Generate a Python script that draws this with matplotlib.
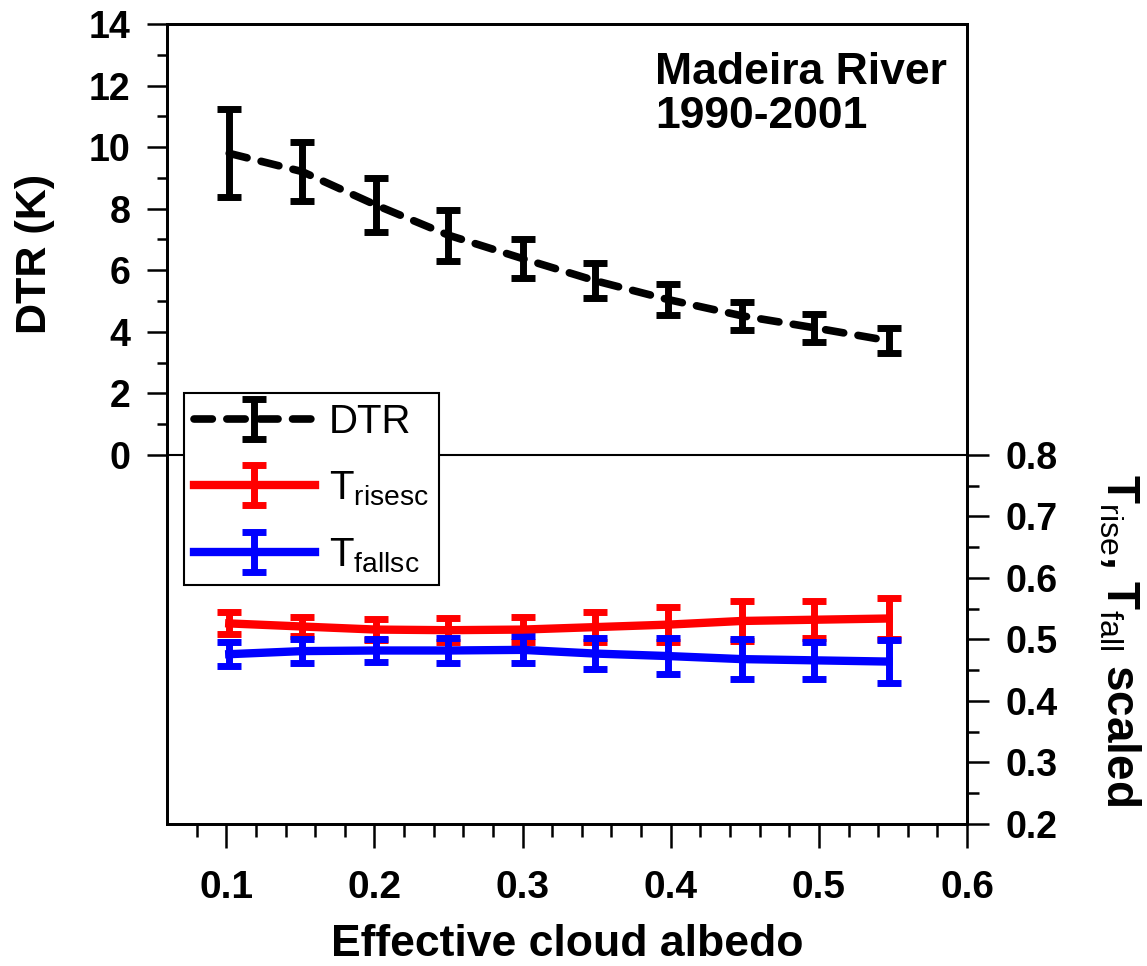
import matplotlib
matplotlib.use("Agg")
import matplotlib.pyplot as plt
from matplotlib.ticker import FixedLocator, FormatStrFormatter

plt.rcParams["font.family"] = ["Liberation Sans", "DejaVu Sans"]
plt.rcParams["mathtext.fontset"] = "custom"
plt.rcParams["mathtext.rm"] = "Liberation Sans"
plt.rcParams["mathtext.bf"] = "Liberation Sans:bold"
plt.rcParams["mathtext.it"] = "Liberation Sans:italic"

# Cloud albedo bins
albedo = [0.102, 0.151, 0.201, 0.250, 0.300, 0.349, 0.398, 0.448, 0.497, 0.547]

# Diurnal temperature range (K) and spread
dtr = [9.80, 9.21, 8.12, 7.14, 6.38, 5.66, 5.05, 4.52, 4.13, 3.71]
dtr_err = [1.43, 0.96, 0.87, 0.83, 0.64, 0.57, 0.50, 0.46, 0.45, 0.41]

# Scaled rise / fall times
t_rise = [0.526, 0.521, 0.516, 0.515, 0.516, 0.520, 0.524, 0.530, 0.532, 0.534]
t_rise_err = [0.018, 0.016, 0.017, 0.019, 0.021, 0.025, 0.029, 0.032, 0.030, 0.033]
t_fall = [0.476, 0.481, 0.482, 0.482, 0.483, 0.477, 0.473, 0.468, 0.466, 0.464]
t_fall_err = [0.020, 0.019, 0.018, 0.020, 0.022, 0.025, 0.029, 0.032, 0.030, 0.035]

fig = plt.figure(figsize=(11.47, 9.66), dpi=100)
ax = fig.add_axes([0.1456, 0.147, 0.6975, 0.828])
ax2 = ax.twinx()

err_style = dict(elinewidth=5, capsize=8.5, capthick=5)

# DTR on the left scale (upper half)
ax.errorbar(albedo, dtr, yerr=dtr_err, color="black", lw=5.5, ls=(0, (2.4, 1.9)),
            dash_capstyle="round", label="DTR", **err_style)
ax.axhline(0, color="black", lw=1.5, zorder=1)

# Rise/fall times on the right scale (lower half)
ax2.errorbar(albedo, t_rise, yerr=t_rise_err, color="#ff0000", lw=6,
             label=r"T$_{\mathrm{risesc}}$", **err_style)
ax2.errorbar(albedo, t_fall, yerr=t_fall_err, color="#0000ff", lw=6,
             label=r"T$_{\mathrm{fallsc}}$", **err_style)

ax.set_xlim(0.06, 0.6)
ax.set_ylim(-12, 14)
ax2.set_ylim(0.2, 1.5)

ax.xaxis.set_major_locator(FixedLocator([0.1, 0.2, 0.3, 0.4, 0.5, 0.6]))
ax.xaxis.set_minor_locator(FixedLocator([0.08, 0.12, 0.14, 0.16, 0.18, 0.22, 0.24, 0.26, 0.28,
                                         0.32, 0.34, 0.36, 0.38, 0.42, 0.44, 0.46, 0.48,
                                         0.52, 0.54, 0.56, 0.58]))
ax.xaxis.set_major_formatter(FormatStrFormatter("%.1f"))
ax.yaxis.set_major_locator(FixedLocator([0, 2, 4, 6, 8, 10, 12, 14]))
ax.yaxis.set_minor_locator(FixedLocator([1, 3, 5, 7, 9, 11, 13]))
ax2.yaxis.set_major_locator(FixedLocator([0.2, 0.3, 0.4, 0.5, 0.6, 0.7, 0.8]))
ax2.yaxis.set_minor_locator(FixedLocator([0.25, 0.35, 0.45, 0.55, 0.65, 0.75]))
ax2.yaxis.set_major_formatter(FormatStrFormatter("%.1f"))

for a in (ax, ax2):
    for s in a.spines.values():
        s.set_linewidth(2)
ax.tick_params(axis="y", which="major", direction="out", length=14.5, width=1.8,
               labelsize=27, pad=12)
ax.tick_params(axis="y", which="minor", direction="out", length=7.5, width=1.8)
ax.tick_params(axis="x", which="major", direction="out", length=17, width=1.8,
               labelsize=28, pad=16)
ax.tick_params(axis="x", which="minor", direction="out", length=9, width=1.8)
ax2.tick_params(axis="y", which="major", direction="out", length=16, width=1.8,
                labelsize=27, pad=12)
ax2.tick_params(axis="y", which="minor", direction="out", length=8.5, width=1.8)
for lab in ax.get_xticklabels() + ax.get_yticklabels() + ax2.get_yticklabels():
    lab.set_fontweight("bold")

ax.set_xlabel("Effective cloud albedo", fontsize=32, fontweight="bold", labelpad=13)
ax.set_ylabel("DTR (K)", fontsize=31, fontweight="bold", va="center", ha="center")
ax.yaxis.set_label_coords(-0.165, 0.7125)
ax2.set_ylabel(r"$\mathbf{T}_{\mathrm{rise}}$, $\mathbf{T}_{\mathrm{fall}}$ scaled",
               fontsize=33, fontweight="bold", rotation=270, va="center", ha="center")
ax2.yaxis.set_label_coords(1.19, 0.23)

ax.text(0.61, 0.965, "Madeira River\n1990-2001", transform=ax.transAxes,
        fontsize=32, fontweight="bold", ha="left", va="top", linespacing=1.1)

h1, l1 = ax.get_legend_handles_labels()
h2, l2 = ax2.get_legend_handles_labels()
leg = ax2.legend(h1 + h2, l1 + l2, loc="upper left", bbox_to_anchor=(0.021, 0.539),
                 borderaxespad=0, fontsize=29, frameon=True, fancybox=False,
                 framealpha=1, edgecolor="black", handlelength=3.0,
                 handletextpad=0.35, borderpad=0.25, labelspacing=0.7)
leg.get_frame().set_linewidth(1.5)

fig.savefig("out.png", dpi=100)
